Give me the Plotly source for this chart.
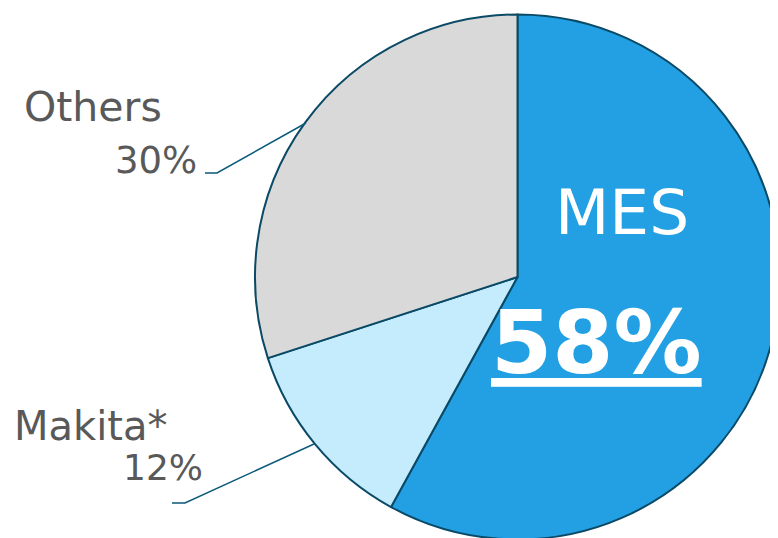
import plotly.graph_objects as go

labels = ["MES", "Makita*", "Others"]
values = [58, 12, 30]
colors = ["#22A0E3", "#C5ECFD", "#D9D9D9"]

W, H = 778, 538
OFF = 8  # page body margin offset

def px(x):
    return (x - OFF) / W

def py(y):
    return 1 - (y - OFF) / H

fig = go.Figure()
fig.add_trace(go.Pie(
    labels=labels, values=values, sort=False, direction="clockwise", rotation=0,
    marker=dict(colors=colors, line=dict(color="#0B4A66", width=2)),
    textinfo="none", hoverinfo="label+percent", showlegend=False,
    domain=dict(x=[px(255), px(780)], y=[py(540), py(14)]),
))

grey = "#595959"
font = "DejaVu Sans"
ann = [
    dict(text="Others", x=px(22), y=py(107), xanchor="left", yanchor="middle",
         font=dict(size=41, color=grey, family=font)),
    dict(text="30%", x=px(199), y=py(160), xanchor="right", yanchor="middle",
         font=dict(size=37, color=grey, family=font)),
    dict(text="Makita*", x=px(12), y=py(426), xanchor="left", yanchor="middle",
         font=dict(size=40, color=grey, family=font)),
    dict(text="12%", x=px(205), y=py(467), xanchor="right", yanchor="middle",
         font=dict(size=36, color=grey, family=font)),
    dict(text="MES", x=px(622), y=py(212), xanchor="center", yanchor="middle",
         font=dict(size=63, color="white", family=font)),
    dict(text="<b><u>58%</u></b>", x=px(596), y=py(342), xanchor="center", yanchor="middle",
         font=dict(size=88, color="white", family=font)),
]
for a in ann:
    a.update(xref="paper", yref="paper", showarrow=False)

lc = "#0B5A7A"
shapes = [
    dict(type="path", path=f"M {px(205)},{py(173)} L {px(217)},{py(173)} L {px(306)},{py(123)}",
         xref="paper", yref="paper", line=dict(color=lc, width=1.5)),
    dict(type="path", path=f"M {px(172)},{py(503)} L {px(185)},{py(503)} L {px(314)},{py(444)}",
         xref="paper", yref="paper", line=dict(color=lc, width=1.5)),
]

fig.update_layout(
    width=W, height=H, margin=dict(l=0, r=0, t=0, b=0),
    paper_bgcolor="white", plot_bgcolor="white",
    annotations=ann, shapes=shapes,
)
fig.write_html("out.html")
